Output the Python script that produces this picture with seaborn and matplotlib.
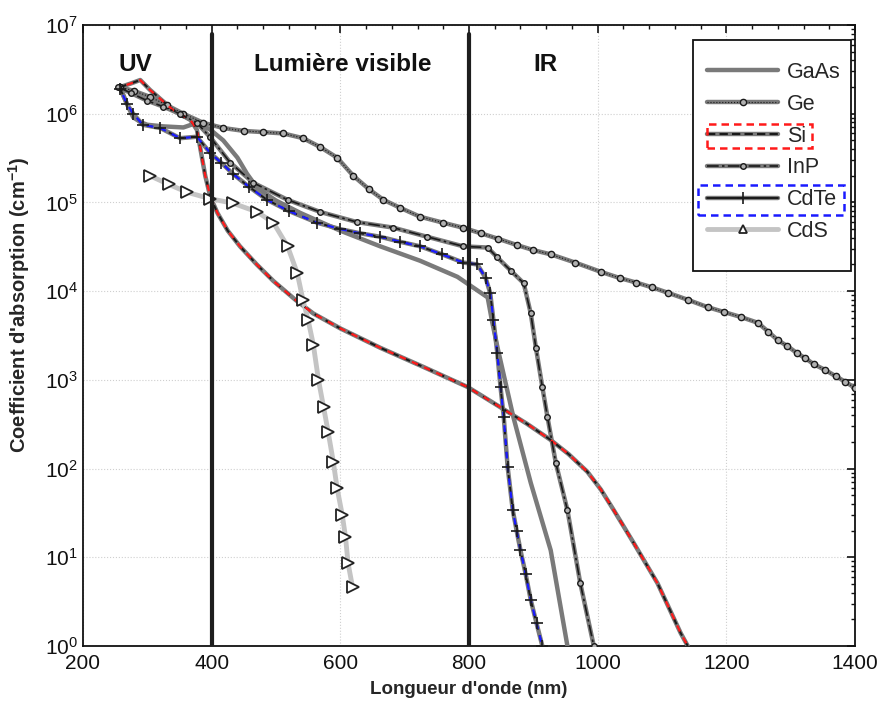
import numpy as np
import pandas as pd
import matplotlib
matplotlib.use('Agg')
import matplotlib.pyplot as plt
import seaborn as sns
from matplotlib.lines import Line2D
from matplotlib.patches import Rectangle
from matplotlib.legend_handler import HandlerTuple
from matplotlib.ticker import MultipleLocator, LogLocator, NullFormatter

# valeurs : longueur d'onde (nm) / coefficient d'absorption (cm-1)
gaas_nm = [258, 268, 278, 290, 300, 325, 356, 377, 398, 418, 440, 455, 471, 500, 538, 600, 662, 724, 782, 829, 836, 845, 869, 896, 927, 953]
gaas_a = [2.0e6, 1.3e6, 9.1e5, 8.0e5, 7.5e5, 7.2e5, 7.0e5, 7.9e5, 6.6e5, 5.0e5, 3.2e5, 2.1e5, 1.45e5, 1.05e5, 7.6e4, 4.8e4, 3.2e4, 2.2e4, 1.45e4, 8.5e3, 4.5e3, 2.2e3, 3.8e2, 69, 12, 1.0]

ge_nm = [257, 280, 304, 330, 356, 387, 418, 450, 480, 511, 542, 569, 595, 620, 645, 667, 693, 724, 760, 790, 818, 845, 875, 900, 927, 965, 1005, 1035, 1060, 1085, 1109, 1140, 1171, 1197, 1223, 1249, 1265, 1280, 1295, 1310, 1323, 1336, 1353, 1370, 1385, 1400]
ge_a = [2.0e6, 1.8e6, 1.55e6, 1.25e6, 1.0e6, 7.9e5, 6.9e5, 6.4e5, 6.2e5, 6.0e5, 5.3e5, 4.2e5, 3.2e5, 2.0e5, 1.4e5, 1.07e5, 8.7e4, 6.9e4, 5.9e4, 5.2e4, 4.5e4, 3.9e4, 3.3e4, 2.9e4, 2.6e4, 2.1e4, 1.65e4, 1.4e4, 1.25e4, 1.1e4, 9.6e3, 8.0e3, 6.6e3, 5.8e3, 5.1e3, 4.4e3, 3.5e3, 2.8e3, 2.4e3, 2.0e3, 1.75e3, 1.5e3, 1.3e3, 1.1e3, 9.5e2, 8.1e2]

si_nm = [258, 275, 289, 304, 340, 367, 377, 382, 390, 398, 409, 425, 444, 470, 496, 530, 558, 600, 662, 729, 798, 849, 890, 927, 955, 984, 1005, 1025, 1056, 1093, 1129, 1140]
si_a = [2.0e6, 2.2e6, 2.4e6, 1.86e6, 1.1e6, 8.5e5, 6.6e5, 4.2e5, 2.0e5, 1.15e5, 7.6e4, 4.8e4, 3.2e4, 2.0e4, 1.3e4, 8.0e3, 5.6e3, 3.8e3, 2.3e3, 1.4e3, 8.3e2, 4.9e2, 3.2e2, 2.1e2, 1.45e2, 92, 58, 34, 14.5, 5.1, 1.4, 1.0]

inp_nm = [255, 275, 300, 325, 350, 377, 398, 429, 465, 518, 569, 626, 682, 735, 791, 829, 844, 865, 885, 896, 904, 914, 922, 935, 953, 973, 994]
inp_a = [2.0e6, 1.7e6, 1.4e6, 1.2e6, 1.0e6, 7.9e5, 5.4e5, 2.8e5, 1.66e5, 1.07e5, 7.8e4, 6.0e4, 5.2e4, 4.1e4, 3.2e4, 3.1e4, 2.4e4, 1.7e4, 1.23e4, 5.6e3, 2.3e3, 8.3e2, 3.8e2, 1.15e2, 34, 5.1, 1.0]

cdte_nm = [258, 268, 278, 293, 320, 351, 377, 398, 415, 433, 458, 486, 520, 564, 600, 630, 662, 693, 724, 758, 791, 813, 826, 833, 838, 844, 849, 854, 860, 868, 874, 880, 888, 896, 905, 914]
cdte_a = [1.9e6, 1.3e6, 1.0e6, 7.5e5, 6.9e5, 5.3e5, 5.5e5, 3.6e5, 2.8e5, 2.1e5, 1.5e5, 1.07e5, 8.0e4, 5.9e4, 5.0e4, 4.5e4, 4.1e4, 3.6e4, 3.2e4, 2.6e4, 2.1e4, 2.0e4, 1.4e4, 9.5e3, 4.7e3, 2.0e3, 8.3e2, 3.8e2, 1.05e2, 34, 20, 12, 6.5, 3.3, 1.8, 1.0]

cds_nm = [304, 333, 362, 398, 433, 471, 496, 518, 533, 542, 550, 558, 566, 574, 581, 589, 595, 603, 608, 612, 619]
cds_a = [2.0e5, 1.6e5, 1.3e5, 1.1e5, 9.8e4, 7.8e4, 5.9e4, 3.2e4, 1.6e4, 7.9e3, 4.7e3, 2.5e3, 1.0e3, 4.9e2, 2.6e2, 1.2e2, 60, 30, 17, 8.6, 4.6]

materiaux = ['GaAs', 'Ge', 'Si', 'InP', 'CdTe', 'CdS']
series = [(gaas_nm, gaas_a), (ge_nm, ge_a), (si_nm, si_a), (inp_nm, inp_a), (cdte_nm, cdte_a), (cds_nm, cds_a)]

df = pd.concat([pd.DataFrame({'nm': x, 'alpha': y, 'mat': m}) for m, (x, y) in zip(materiaux, series)], ignore_index=True)

sns.set_theme(style='white')
plt.rcParams['font.family'] = ['Liberation Sans', 'DejaVu Sans']
plt.rcParams['mathtext.default'] = 'regular'
plt.rcParams['xtick.direction'] = 'in'
plt.rcParams['ytick.direction'] = 'in'

fig = plt.figure(figsize=(8.81, 7.08), dpi=100)
ax = fig.add_axes([83 / 881, 1 - 646 / 708, 772 / 881, 621 / 708])

GRIS = '#7a7a7a'
GRIS_CLAIR = '#c4c4c4'


def trace(mat, **kw):
    sub = df[df['mat'] == mat]
    sns.lineplot(data=sub, x='nm', y='alpha', ax=ax, sort=False, estimator=None, legend=False, **kw)


# GaAs
trace('GaAs', color=GRIS, lw=3.2, zorder=3)
# Ge
trace('Ge', color=GRIS, lw=3.2, zorder=3)
trace('Ge', color='k', lw=0.8, ls=':', marker='o', markersize=4.5, markerfacecolor='#b0b0b0',
      markeredgecolor='k', markeredgewidth=1.0, zorder=4)
# Si
trace('Si', color=GRIS, lw=3.2, zorder=3)
trace('Si', color='k', lw=1.5, ls=(0, (3, 3)), zorder=4)
trace('Si', color='#ff1a1a', lw=1.6, ls=(3, (3, 3)), zorder=4)
# InP
trace('InP', color=GRIS, lw=3.2, zorder=3)
trace('InP', color='k', lw=1.2, ls=(0, (7, 2, 1.5, 2)), marker='o', markersize=4, markerfacecolor='#b0b0b0',
      markeredgecolor='k', markeredgewidth=1.0, zorder=4)
# CdTe
trace('CdTe', color=GRIS, lw=3.2, zorder=3)
trace('CdTe', color='k', lw=1.4, ls=(0, (3, 3)), zorder=4)
trace('CdTe', color='#1a1aff', lw=1.6, ls=(3, (3, 3)), marker='+', markersize=9,
      markeredgecolor='k', markeredgewidth=1.2, zorder=4)
# CdS
trace('CdS', color=GRIS_CLAIR, lw=3.5, zorder=3)
trace('CdS', color='none', lw=0, marker='>', markersize=8, markerfacecolor='white',
      markeredgecolor='#222222', markeredgewidth=1.3, zorder=4)

# limites UV / visible / IR
for xv in (400, 800):
    ax.axvline(xv, ymin=0.0, ymax=0.985, color='#1e1e1e', lw=3, zorder=5)

ax.set_yscale('log')
ax.set_xlim(200, 1400)
ax.set_ylim(1, 1e7)
ax.xaxis.set_major_locator(MultipleLocator(200))
ax.xaxis.set_minor_locator(MultipleLocator(40))
ax.yaxis.set_major_locator(LogLocator(base=10, numticks=10))
ax.yaxis.set_minor_locator(LogLocator(base=10, subs=np.arange(2, 10), numticks=100))
ax.yaxis.set_minor_formatter(NullFormatter())
ax.tick_params(which='both', top=True, right=True, labelsize=15, colors='#111111')
ax.tick_params(which='major', length=6, width=1.2)
ax.tick_params(which='minor', length=3, width=1.0)
ax.tick_params(axis='x', pad=6)
ax.grid(True, which='major', color='#cfcfcf', ls=':', lw=0.8)
for s in ax.spines.values():
    s.set_color('#111111')
    s.set_linewidth(1.3)

lab_font = ['Liberation Sans Narrow', 'Liberation Sans', 'DejaVu Sans']
ax.set_xlabel("Longueur d'onde (nm)", fontsize=13.5, fontweight='bold', family=lab_font)
ax.set_ylabel("Coefficient d'absorption (cm$^{-1}$)", fontsize=14.5, fontweight='bold', family=lab_font)
ax.xaxis.set_label_coords(0.5, -0.056)
ax.yaxis.set_label_coords(-0.066, 0.55)

for x, t in [(281, 'UV'), (603, 'Lumière visible'), (919, 'IR')]:
    ax.text(x, 3.55e6, t, fontsize=17.5, fontweight='bold', ha='center', va='center', color='#111111')

# légende
def h(*lines):
    return tuple(lines)

poignees = [
    h(Line2D([], [], color=GRIS, lw=3.2)),
    h(Line2D([], [], color=GRIS, lw=3.2),
      Line2D([], [], color='k', lw=0.8, ls=':', marker='o', markersize=4.5, markerfacecolor='#b0b0b0',
             markeredgecolor='k', markevery=[0, 2, 4, 6])),
    h(Line2D([], [], color=GRIS, lw=3.2), Line2D([], [], color='k', lw=1.5, ls=(0, (4, 2)))),
    h(Line2D([], [], color=GRIS, lw=3.2),
      Line2D([], [], color='k', lw=1.2, ls=(0, (7, 2, 1.5, 2)), marker='o', markersize=4,
             markerfacecolor='#b0b0b0', markeredgecolor='k', markevery=[2, 6])),
    h(Line2D([], [], color=GRIS, lw=3.2),
      Line2D([], [], color='k', lw=1.4, marker='+', markersize=9, markeredgewidth=1.2, markevery=[1, 2, 3, 4, 5])),
    h(Line2D([], [], color=GRIS_CLAIR, lw=3.5),
      Line2D([], [], color='none', marker='^', markersize=6, markerfacecolor='white', markeredgecolor='#222222',
             markeredgewidth=1.3, markevery=[1, 3, 5])),
]

leg = ax.legend(poignees, materiaux, handler_map={tuple: HandlerTuple(ndivide=1)},
                loc='upper left', bbox_to_anchor=(707 / 881, 1 - 62 / 708), bbox_transform=fig.transFigure,
                frameon=False, fontsize=15.5, handlelength=3.3, handletextpad=0.4, labelspacing=0.5,
                borderpad=0, borderaxespad=0)
leg.set_zorder(7)

ax.add_patch(Rectangle((693 / 881, 1 - 271 / 708), (851 - 693) / 881, (271 - 40) / 708,
                       transform=fig.transFigure, facecolor='white', edgecolor='#111111', lw=1.3,
                       clip_on=False, zorder=6))

fig.canvas.draw()
rend = fig.canvas.get_renderer()
fs_px = 15.5 * 100 / 72
for i, col, padl, padr, demi in [(2, '#ff1a1a', 0, 6, 12), (4, '#1a1aff', 9, 7, 15)]:
    bb = leg.get_texts()[i].get_window_extent(rend)
    x0 = bb.x0 - (3.3 + 0.4) * fs_px - padl
    x1 = bb.x1 + padr
    yc = (bb.y0 + bb.y1) / 2
    ax.add_patch(Rectangle((x0 / 881, (yc - demi) / 708), (x1 - x0) / 881, 2 * demi / 708,
                           transform=fig.transFigure, facecolor='none', edgecolor=col, lw=1.8,
                           ls=(0, (3, 2)), clip_on=False, zorder=8))

fig.savefig('out.png', dpi=100)
